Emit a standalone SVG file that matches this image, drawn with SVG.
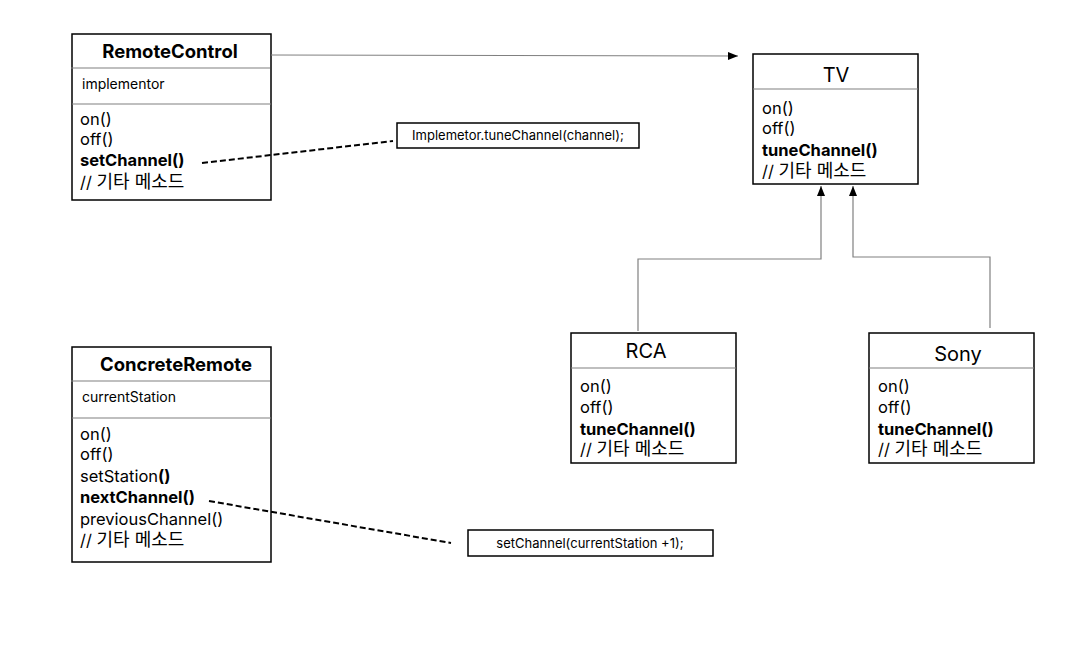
<svg xmlns="http://www.w3.org/2000/svg" width="1068" height="648" viewBox="0 0 1068 648">
<style>
text{font-family:Inter,"Noto Sans CJK KR",sans-serif;fill:#000}
.box{fill:#fff;stroke:#000;stroke-width:1.5}
.div{stroke:#808080;stroke-width:1.2}
.title{font-size:18.5px;font-weight:bold}
.cls{font-size:20px}
.attr{font-size:14px}
.m{font-size:16.5px}
.b{font-weight:bold}
.k{font-size:18px}
.note{font-size:13px}
.conn{fill:none;stroke:#808080;stroke-width:1.2}
.dash{fill:none;stroke:#000;stroke-width:2;stroke-dasharray:6 3}
</style>
<defs>
<marker id="arr" viewBox="0 0 10 10" refX="10" refY="5" markerWidth="10" markerHeight="10" markerUnits="userSpaceOnUse" orient="auto">
<path d="M0,1 L10,5 L0,9 Z" fill="#000"/>
</marker>
</defs>
<rect width="1068" height="648" fill="#fff"/>
<g id="RemoteControl">
<rect class="box" x="72" y="34" width="199" height="166"/>
<line class="div" x1="71" y1="68" x2="270" y2="68"/>
<line class="div" x1="72" y1="104" x2="271" y2="104"/>
<text class="title" x="170" y="58" text-anchor="middle">RemoteControl</text>
<text class="attr" x="82" y="89">implementor</text>
<text class="m" x="80" y="125">on()</text>
<text class="m" x="80" y="145">off()</text>
<text class="m b" x="80" y="166">setChannel()</text>
<text class="m" x="80" y="188">// <tspan class="k">기타 메소드</tspan></text>
</g>
<g id="note1">
<rect class="box" x="397" y="123" width="242" height="25" stroke-width="1.2"/>
<text class="note" x="518" y="140" text-anchor="middle">Implemetor.tuneChannel(channel);</text>
</g>
<g id="TV">
<rect class="box" x="753" y="54" width="165" height="130"/>
<line class="div" x1="753" y1="89" x2="918" y2="89"/>
<text class="cls" x="836" y="82" text-anchor="middle">TV</text>
<text class="m" x="762" y="114">on()</text>
<text class="m" x="762" y="134">off()</text>
<text class="m b" x="762" y="156">tuneChannel()</text>
<text class="m" x="762" y="177">// <tspan class="k">기타 메소드</tspan></text>
</g>
<g id="RCA">
<rect class="box" x="571" y="333" width="165" height="130"/>
<line class="div" x1="571" y1="368" x2="736" y2="368"/>
<text class="cls" x="646" y="358" text-anchor="middle">RCA</text>
<text class="m" x="580" y="392">on()</text>
<text class="m" x="580" y="413">off()</text>
<text class="m b" x="580" y="435">tuneChannel()</text>
<text class="m" x="580" y="455">// <tspan class="k">기타 메소드</tspan></text>
</g>
<g id="Sony">
<rect class="box" x="869" y="333" width="165" height="130"/>
<line class="div" x1="869" y1="368" x2="1034" y2="368"/>
<text class="cls" x="958" y="361" text-anchor="middle">Sony</text>
<text class="m" x="878" y="392">on()</text>
<text class="m" x="878" y="413">off()</text>
<text class="m b" x="878" y="435">tuneChannel()</text>
<text class="m" x="878" y="455">// <tspan class="k">기타 메소드</tspan></text>
</g>
<g id="ConcreteRemote">
<rect class="box" x="72" y="347" width="199" height="215"/>
<line class="div" x1="71" y1="381" x2="270" y2="381"/>
<line class="div" x1="72" y1="418" x2="271" y2="418"/>
<text class="title" x="176" y="371" text-anchor="middle">ConcreteRemote</text>
<text class="attr" x="82" y="402">currentStation</text>
<text class="m" x="80" y="440">on()</text>
<text class="m" x="80" y="460">off()</text>
<text class="m" x="80" y="482">setStation<tspan class="b">()</tspan></text>
<text class="m b" x="80" y="503">nextChannel()</text>
<text class="m" x="80" y="525">previousChannel()</text>
<text class="m" x="80" y="546">// <tspan class="k">기타 메소드</tspan></text>
</g>
<g id="note2">
<rect class="box" x="468" y="530" width="245" height="26" stroke-width="1.2"/>
<text class="note" x="590" y="548" text-anchor="middle">setChannel(currentStation +1);</text>
</g>
<g id="connectors">
<line class="conn" x1="271" y1="55" x2="738" y2="56" marker-end="url(#arr)"/>
<polyline class="conn" points="638,331 638,259 821,259 821,186" marker-end="url(#arr)"/>
<polyline class="conn" points="990,328 990,257 853,257 853,186" marker-end="url(#arr)"/>
<line class="dash" x1="202" y1="163" x2="393" y2="141"/>
<line class="dash" x1="209" y1="501" x2="451" y2="543"/>
</g>
</svg>
